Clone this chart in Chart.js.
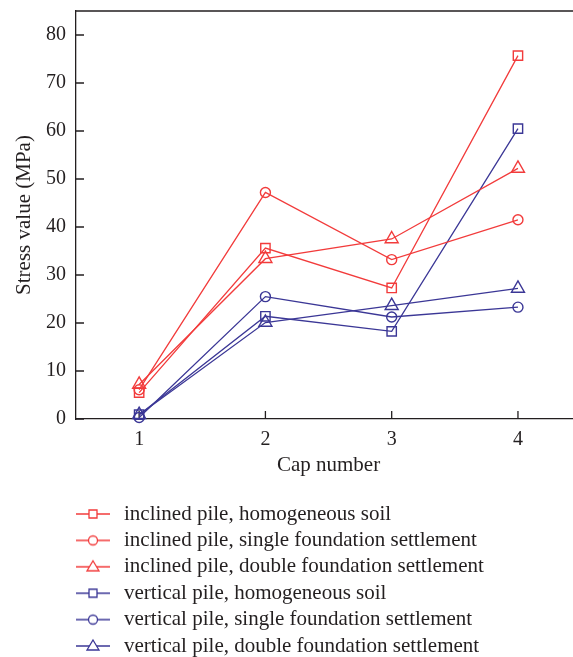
<!DOCTYPE html>
<html>
<head>
<meta charset="utf-8">
<title>Stress value by cap number</title>
<script src="https://cdn.jsdelivr.net/npm/chart.js@4.4.1/dist/chart.umd.min.js"></script>
<style>
  html, body { margin: 0; padding: 0; background: #fff; overflow: hidden; }
  #wrap { position: relative; width: 590px; height: 667px; }
</style>
</head>
<body>
<div id="wrap"><canvas id="chart"></canvas></div>
<script>
// cap positions along the x axis
const capLabels = ['1', '2', '3', '4'];
const yTicks = [0, 10, 20, 30, 40, 50, 60, 70, 80];

// stress values (MPa) per cap
const inclinedHomogeneous = [5.5, 35.6, 27.3, 75.7];
const inclinedSingle      = [6.1, 47.2, 33.2, 41.5];
const inclinedDouble      = [7.2, 33.4, 37.5, 52.2];
const verticalHomogeneous = [0.9, 21.4, 18.25, 60.5];
const verticalSingle      = [0.3, 25.5, 21.25, 23.3];
const verticalDouble      = [0.9, 20.1, 23.6, 27.2];

const RED = '#f23b3b';
const BLUE = '#3b3796';
const INK = '#231f20';
const FONT = "'Liberation Serif', 'Times New Roman', serif";

// small legend icon: line segment with the marker in the middle
function legendIcon(color, shape) {
  const c = document.createElement('canvas');
  c.width = 107;
  c.height = 20;
  const g = c.getContext('2d');
  g.strokeStyle = color;
  g.lineWidth = 1.3;
  g.beginPath();
  g.moveTo(70, 10);
  g.lineTo(104, 10);
  g.stroke();
  const cx = 87, cy = 10;
  g.fillStyle = '#fff';
  g.beginPath();
  if (shape === 'rect') {
    g.rect(cx - 4, cy - 4, 8, 8);
  } else if (shape === 'circle') {
    g.arc(cx, cy, 4.5, 0, Math.PI * 2);
  } else {
    g.moveTo(cx, cy - 6);
    g.lineTo(cx + 6, cy + 4);
    g.lineTo(cx - 6, cy + 4);
    g.closePath();
  }
  g.fill();
  g.stroke();
  return c;
}

function series(label, data, color, shape) {
  const radius = shape === 'rect' ? 6.6 : shape === 'circle' ? 5 : 7.5;
  return {
    label,
    data,
    borderColor: color,
    backgroundColor: 'rgba(0,0,0,0)',
    borderWidth: 1.3,
    pointStyle: shape,
    pointRadius: radius,
    pointHoverRadius: radius,
    pointBorderWidth: 1.4,
    pointBorderColor: color,
    pointBackgroundColor: 'rgba(0,0,0,0)',
    tension: 0,
    clip: false,
    icon: legendIcon(color, shape)
  };
}

const datasets = [
  series('inclined pile, homogeneous soil', inclinedHomogeneous, RED, 'rect'),
  series('inclined pile, single foundation settlement', inclinedSingle, RED, 'circle'),
  series('inclined pile, double foundation settlement', inclinedDouble, RED, 'triangle'),
  series('vertical pile, homogeneous soil', verticalHomogeneous, BLUE, 'rect'),
  series('vertical pile, single foundation settlement', verticalSingle, BLUE, 'circle'),
  series('vertical pile, double foundation settlement', verticalDouble, BLUE, 'triangle')
];

// closed frame + inward tick marks
const frame = {
  id: 'frame',
  beforeDatasetsDraw(chart) {
    const { ctx, chartArea: a, scales: { x, y } } = chart;
    ctx.save();
    ctx.strokeStyle = INK;
    ctx.lineWidth = 1.3;
    ctx.beginPath();
    ctx.moveTo(a.left, a.top);
    ctx.lineTo(a.right, a.top);
    ctx.lineTo(a.right, a.bottom);
    x.ticks.forEach((t, i) => {
      const px = x.getPixelForTick(i);
      ctx.moveTo(px, a.bottom);
      ctx.lineTo(px, a.bottom - 8);
    });
    y.ticks.forEach((t, i) => {
      const py = y.getPixelForTick(i);
      ctx.moveTo(a.left, py);
      ctx.lineTo(a.left + 8, py);
    });
    ctx.stroke();
    ctx.restore();
  }
};

new Chart(document.getElementById('chart'), {
  type: 'line',
  data: { labels: capLabels, datasets },
  plugins: [frame],
  options: {
    responsive: true,
    maintainAspectRatio: false,
    animation: false,
    events: [],
    layout: { padding: { left: 0.1, top: 11, right: 7, bottom: 0.5 } },
    plugins: {
      tooltip: { enabled: false },
      legend: {
        position: 'bottom',
        align: 'start',
        labels: {
          color: INK,
          font: { family: FONT, size: 21 },
          padding: 5.4,
          usePointStyle: true,
          pointStyleWidth: 108,
          generateLabels: (chart) => chart.data.datasets.map((ds, i) => ({
            text: ds.label,
            pointStyle: ds.icon,
            fillStyle: ds.borderColor,
            strokeStyle: ds.borderColor,
            lineWidth: 0,
            hidden: false,
            datasetIndex: i,
            fontColor: INK
          }))
        }
      }
    },
    scales: {
      x: {
        type: 'category',
        offset: true,
        grid: { display: false, drawTicks: false },
        border: { display: true, color: INK, width: 1.3 },
        ticks: { color: INK, font: { family: FONT, size: 20 }, padding: 9, maxRotation: 0 },
        title: {
          display: true,
          text: 'Cap number',
          color: INK,
          font: { family: FONT, size: 21 },
          padding: { top: 0, bottom: 20 }
        },
        afterFit: (scale) => { scale.height = 79.1; }
      },
      y: {
        min: 0,
        max: 85,
        grid: { display: false, drawTicks: false },
        border: { display: true, color: INK, width: 1.3 },
        ticks: { color: INK, font: { family: FONT, size: 20 }, padding: 10 },
        afterBuildTicks: (scale) => { scale.ticks = yTicks.map(v => ({ value: v })); },
        title: {
          display: true,
          text: 'Stress value (MPa)',
          color: INK,
          font: { family: FONT, size: 21 },
          padding: { top: 11.3, bottom: 0 }
        },
        afterFit: (scale) => {
          scale.width = 75.9;
          // the top of the frame sits at 85, well above the last label
          scale.paddingTop = 0;
          scale.paddingBottom = 0;
        }
      }
    }
  }
});
</script>
</body>
</html>
